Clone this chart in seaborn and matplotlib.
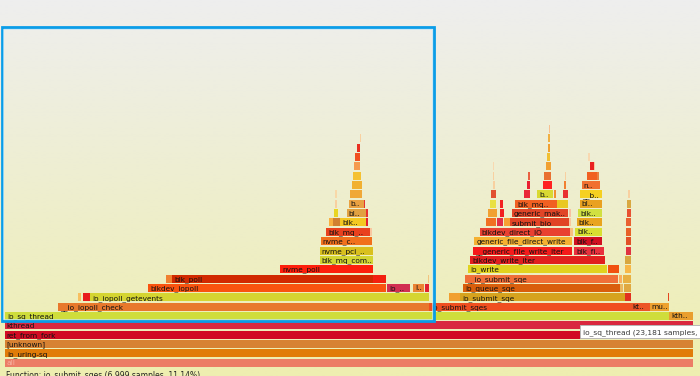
import numpy as np
import matplotlib
matplotlib.use("Agg")
import matplotlib.pyplot as plt
import seaborn as sns
from matplotlib.patches import Rectangle
from matplotlib.colors import to_rgb

sns.set_theme(style="white")
plt.rcParams['font.family'] = ['DejaVu Sans']

# ---- flame graph frames (sample offsets in units of the root width 688.5) ----
frame_names = [
    "all",
    "io_uring-sq",
    "[unknown]",
    "ret_from_fork",
    "kthread",
    "io_sq_thread", "kth..",
    "__io_iopoll_check", "io_submit_sqes", "kt..", "mu..",
    "", "", "io_iopoll_getevents", "", "io_submit_sqe", "", "",
    "blkdev_iopoll", "io_..", "l..", "", "io_queue_sqe", "", "",
    "", "blk_poll", "", "", "__io_submit_sqe", "", "",
    "nvme_poll", "io_write", "", "",
    "blk_mq_com..", "blkdev_write_iter", "",
    "nvme_pci_..", "__generic_file_write_iter", "blk_fi..", "",
    "nvme_c..", "generic_file_direct_write", "blk_f..", "",
    "blk_mq_..", "", "blkdev_direct_IO", "", "blk..", "",
    "", "", "blk..", "", "", "", "", "submit_bio", "", "blk..", "",
    "", "bl..", "", "", "", "generic_mak..", "", "blk..", "",
    "", "b..", "", "", "", "blk_mq..", "", "bl..", "",
    "", "", "", "", "b..", "", "", "__b..", "",
    "", "", "", "", "", "n..",
    "", "", "", "", "", "", "",
    "", "", "", "", "",
    "", "", "",
    "", "",
    "", "",
    "",
]
frame_depth = [
    0,
    1,
    2,
    3,
    4,
    5, 5,
    6, 6, 6, 6,
    7, 7, 7, 7, 7, 7, 7,
    8, 8, 8, 8, 8, 8, 8,
    9, 9, 9, 9, 9, 9, 9,
    10, 10, 10, 10,
    11, 11, 11,
    12, 12, 12, 12,
    13, 13, 13, 13,
    14, 14, 14, 14, 14, 14,
    15, 15, 15, 15, 15, 15, 15, 15, 15, 15, 15,
    16, 16, 16, 16, 16, 16, 16, 16, 16,
    17, 17, 17, 17, 17, 17, 17, 17, 17,
    18, 18, 18, 18, 18, 18, 18, 18, 18,
    19, 19, 19, 19, 19, 19,
    20, 20, 20, 20, 20, 20, 20,
    21, 21, 21, 21, 21,
    22, 22, 22,
    23, 23,
    24, 24,
    25,
]
frame_start = [
    0,
    0,
    0,
    0,
    0,
    0, 664.5,
    53.5, 424.5, 625.5, 645,
    73.5, 78, 85.5, 444.5, 455.5, 620.5, 663,
    143.5, 382.2, 408.2, 420, 458, 615.5, 619,
    161.5, 167.5, 368, 423, 460.5, 614.5, 618.5,
    275.5, 463, 603, 620.5,
    315, 465.5, 620.5,
    315, 468, 569.5, 621,
    316, 469.5, 569.5, 621,
    321.5, 365.5, 475, 565, 570.5, 621.5,
    324.5, 328, 335.5, 361.5, 481.5, 492, 499, 505, 564, 572, 621.5,
    329, 342, 361.5, 483.5, 495, 507, 564, 573.5, 622,
    330.5, 344, 359, 485.5, 495, 510.5, 552, 575, 622.5,
    330.5, 345.5, 486, 519.5, 532.5, 549, 558.5, 575.5, 623.5,
    347, 488.5, 522.5, 538, 559.5, 577,
    348, 488.5, 523, 539.5, 560, 582, 592,
    349, 488.5, 541.5, 585.5, 589,
    350, 542, 583,
    352, 543,
    355, 543.5,
    544,
]
frame_width = [
    688.5,
    688.5,
    688.5,
    688.5,
    688.5,
    664.5, 24,
    371, 201, 19.5, 19.5,
    2.5, 7.5, 338.5, 11, 165, 5.5, 1.5,
    238, 23, 11.5, 4, 157.5, 3.3, 7,
    6, 200.5, 13.5, 1.5, 153, 2.5, 7.5,
    92.5, 139.5, 11, 5.5,
    53.5, 135, 5.5,
    53, 99.5, 29.5, 5,
    51, 97.5, 27.5, 5,
    43.5, 1.7, 90, 3, 26.5, 4.5,
    3.7, 7.5, 26.5, 1.7, 10, 6.5, 6, 59, 2, 25, 4.5,
    4, 19.5, 1.5, 8.5, 4, 56.5, 2.5, 23.5, 4,
    1.5, 15, 1.2, 6, 3, 41.5, 11.5, 22.5, 3.5,
    1.5, 12.3, 5.5, 6, 16, 2.5, 5, 21.5, 1.5,
    10, 1.5, 3, 9, 2, 18.5,
    8, 1.2, 2, 7, 1.2, 10, 2.5,
    6.5, 1, 4.5, 3.5, 1.5,
    5.5, 3.5, 2,
    3.5, 2.5,
    1, 2,
    1.2,
]
frame_color = [
    "#ec7d66",
    "#e17c08",
    "#d78233",
    "#d10b22",
    "#d9283f",
    "#cfdd3b", "#e99e2f",
    "#e8782c", "#f04f1f", "#ec5526", "#eda12f",
    "#f8bf5f", "#e81c1c", "#d5d531", "#f19f30", "#d6a31e", "#e2301f", "#e4461f",
    "#f9530f", "#d12f52", "#eb8333", "#e12131", "#d95e0c", "#e9b75f", "#e0a840",
    "#f08030", "#d12900", "#f3200f", "#f2c47f", "#f06f38", "#f8ae5e", "#e8b041",
    "#fd1f0c", "#e1d31e", "#f1510f", "#f8b848",
    "#d3d532", "#e11f1e", "#d8a840",
    "#d9c01e", "#f51a1a", "#e9303d", "#e03341",
    "#f1701c", "#f5b131", "#d11020", "#e25027",
    "#e9411e", "#f8c7a0", "#e94131", "#f8bf80", "#d8e031", "#e86128",
    "#f8b041", "#d18031", "#f4c821", "#e12031", "#f17021", "#e23048", "#f8a031",
    "#e14425", "#f8c8a0", "#e9a41e", "#e96030",
    "#e9d521", "#e1a141", "#e83131", "#f1a031", "#f22121", "#e14527", "#f8c0a0",
    "#d1e041", "#e85131",
    "#f8cf9f", "#e9a141", "#e23131", "#e9e141", "#f22121", "#f16021", "#e9c821",
    "#e9a121", "#d9a841",
    "#f8d8a8", "#f0a838", "#e15031", "#e92839", "#d9d931", "#f19031", "#e93131",
    "#f5d021", "#f8d0a0",
    "#f1b031", "#f8d0a0", "#e92031", "#ff2121", "#f18031", "#f17031",
    "#f5c131", "#f8d0a0", "#e96041", "#e97031", "#f8d0a0", "#f16021", "#e98041",
    "#f59a50", "#f8d8b0", "#f1a031", "#e92121", "#f8c8a0",
    "#f15021", "#f1c031", "#f8d8b0",
    "#e93021", "#f1a031",
    "#f8d0a0", "#f1b041",
    "#f8c090",
]

tooltip_text = "io_sq_thread (23,181 samples, 36.9"
status_text = "Function: io_submit_sqes (6,999 samples, 11.14%)"

df = {"name": frame_names, "depth": frame_depth, "start": frame_start,
      "width": frame_width, "color": frame_color}
assert len({len(v) for v in df.values()}) == 1, {k: len(v) for k, v in df.items()}

# ---- geometry ----
W, H = 700, 376
X0 = 4.5          # pixel of sample 0
Y0 = 366.7        # pixel of bottom of depth 0
PITCH = 9.35      # pixels per level
BAR_H = 8.0 / PITCH


def px_x(px):
    return px - X0


def px_y(py):
    return (Y0 - py) / PITCH


fig = plt.figure(figsize=(W / 100, H / 100), dpi=100)
ax = fig.add_axes([0, 0, 1, 1])
xlim = (px_x(0), px_x(W))
ylim = (px_y(H), px_y(0))

# background gradient
top = np.array(to_rgb("#eeeeee"))
bot = np.array(to_rgb("#eeeeb0"))
t = np.linspace(0, 1, 256)[:, None, None]
grad = top * (1 - t) + bot * t
ax.imshow(grad, extent=(xlim[0], xlim[1], ylim[0], ylim[1]), origin="upper",
          aspect="auto", zorder=0, interpolation="bilinear")

ax.barh(y=np.array(frame_depth) + BAR_H / 2, width=frame_width, left=frame_start,
        height=BAR_H, color=frame_color, edgecolor="none", linewidth=0, zorder=2)

for n, d, s, w in zip(frame_names, frame_depth, frame_start, frame_width):
    if n:
        col = "#f6b2a2" if n == "all" else "#111111"
        ax.text(s + 2.3, d + BAR_H / 2, n, fontsize=5.3, ha="left",
                va="center_baseline", color=col, zorder=3)

# selection highlight
ax.add_patch(Rectangle((px_x(1.8), px_y(320.5)), px_x(433.5) - px_x(1.8),
                       px_y(27) - px_y(320.5), fill=False, edgecolor="#0a9de8",
                       linewidth=2.0, zorder=5))
ax.add_patch(Rectangle((px_x(3.3), px_y(319.0)), px_x(432.0) - px_x(3.3),
                       px_y(28.5) - px_y(319.0), fill=False, edgecolor="#bfe6fa",
                       linewidth=0.5, zorder=5))

# tooltip
ax.add_patch(Rectangle((px_x(579.5), px_y(337.5)), px_x(705) - px_x(579.5),
                       px_y(325) - px_y(337.5), facecolor="white",
                       edgecolor="#b8b8b8", linewidth=0.7, zorder=6))
ax.text(px_x(582.7), px_y(331.4), tooltip_text, fontsize=5.4, ha="left",
        va="center_baseline", color="#3a3a3a", zorder=7)

# status line
ax.text(px_x(5.5), px_y(370.8), status_text, fontsize=5.5, ha="left", va="top",
        color="#222222", zorder=3)

ax.set_xlim(*xlim)
ax.set_ylim(*ylim)
ax.axis("off")
fig.savefig("out.png", dpi=100)
